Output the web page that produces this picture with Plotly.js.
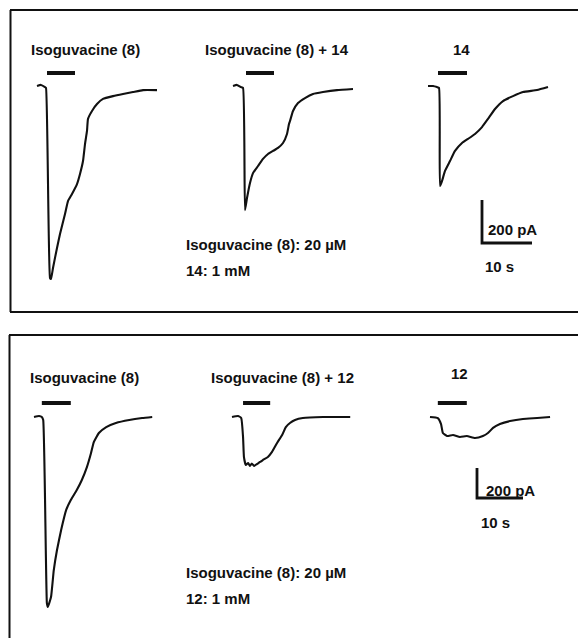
<!DOCTYPE html>
<html>
<head>
<meta charset="utf-8">
<script src="https://cdn.plot.ly/plotly-3.0.1.min.js"></script>
<style>html,body{margin:0;padding:0;background:#fff;}#chart{width:578px;height:638px;}</style>
</head>
<body>
<div id="chart"></div>
<script>
// ---------- DATA (time in s from trace start, current in pA relative to baseline) ----------
// Top panel: Isoguvacine (8) 20 uM, 14 1 mM
const topIso_t   = [0, 0.8, 1.6, 1.8, 2.6, 2.8, 3.2, 4.0, 4.6, 5.6, 6.2, 7.0, 8.0, 8.6, 9.2, 9.6, 10.0, 10.2, 11.0, 12.0, 13.2, 15.2, 17.2, 19.2, 21.2, 24.0];
const topIso_pA  = [0, 5, -5, -9, -893, -897, -846, -753, -688, -595, -535, -502, -456, -409, -349, -270, -209, -153, -116, -84, -60, -47, -37, -28, -19, -19];
const topMix_t   = [0, 0.8, 1.6, 2.0, 2.4, 2.8, 3.4, 4.0, 5.0, 6.0, 7.0, 8.0, 9.0, 10.0, 10.8, 11.2, 11.4, 12.0, 13.0, 14.4, 16.0, 18.0, 20.8, 24.0];
const topMix_pA  = [0, 5, -5, -9, -577, -521, -451, -405, -372, -339, -316, -302, -288, -265, -223, -177, -163, -116, -79, -56, -37, -28, -19, -14];
const top14_t    = [0, 1.0, 1.8, 2.2, 2.4, 2.8, 3.4, 4.4, 5.4, 6.8, 8.0, 9.4, 10.8, 12.0, 13.4, 15.0, 17.0, 19.0, 21.8, 24.0];
const top14_pA   = [0, 0, -5, -9, -465, -442, -395, -349, -302, -265, -246, -223, -191, -153, -107, -70, -47, -28, -19, -5];
const topApp_start = [2.0, 2.6, 2.0];   // drug application bars (s)
const topApp_end   = [7.6, 8.2, 7.8];

// Bottom panel: Isoguvacine (8) 20 uM, 12 1 mM
const botIso_t   = [0, 1.1, 1.7, 2.0, 2.8, 3.0, 3.7, 4.3, 5.0, 5.9, 7.0, 8.0, 9.3, 10.4, 11.5, 12.4, 13.0, 14.1, 15.7, 17.8, 20.7, 23.5, 25.7];
const botIso_pA  = [0, 7, 0, -20, -1241, -1267, -1201, -1021, -887, -754, -620, -554, -487, -420, -334, -240, -167, -107, -67, -40, -20, -7, 0];
const botMix_t   = [0, 1.3, 2.0, 2.4, 2.6, 3.0, 3.5, 3.9, 4.3, 4.8, 5.4, 6.1, 6.7, 7.8, 8.7, 9.8, 10.9, 11.7, 12.6, 13.7, 15.4, 19.8, 25.7];
const botMix_pA  = [0, 7, -7, -133, -267, -320, -307, -327, -310, -327, -314, -300, -287, -267, -233, -173, -120, -67, -40, -20, -7, 0, 0];
const bot12_t    = [0, 1.7, 2.4, 2.8, 3.7, 5.0, 6.5, 8.0, 9.8, 11.5, 12.6, 13.7, 15.2, 17.4, 20.2, 23.3, 26.1];
const bot12_pA   = [0, -7, -47, -107, -127, -120, -133, -127, -140, -127, -107, -73, -47, -27, -13, -7, 0];
const botApp_start = [1.7, 2.4, 1.7];
const botApp_end   = [8.0, 8.3, 8.0];

const scaleBar_pA = 200;
const scaleBar_s  = 10;

const topLabels = ["Isoguvacine (8)", "Isoguvacine (8) + 14", "14"];
const botLabels = ["Isoguvacine (8)", "Isoguvacine (8) + 12", "12"];
const topNotes  = ["Isoguvacine (8): 20 µM", "14: 1 mM"];
const botNotes  = ["Isoguvacine (8): 20 µM", "12: 1 mM"];
const scaleText = ["200 pA", "10 s"];

// ---------- LAYOUT CONSTANTS ----------
const W = 578, H = 638;
const INK = '#111';
const TOP = {pxPerS: 5.0, pAPerPx: 4.65, basePx: 86, starts: [37, 233, 428], appPx: 13, bar: [482, 243]};
const BOT = {pxPerS: 4.6, pAPerPx: 6.67, basePx: 417, starts: [34, 232, 430], appPx: 14, bar: [477, 498]};

function yRange(p) { return [-(H - p.basePx) * p.pAPerPx, p.basePx * p.pAPerPx]; }
function xRange(p) { return [0, W / p.pxPerS]; }

const traces = [];
function addPanel(p, xa, ya, sets, appS, appE) {
  sets.forEach((s, i) => {
    const off = p.starts[i] / p.pxPerS;
    traces.push({x: s[0].map(t => t + off), y: s[1], xaxis: xa, yaxis: ya, mode: 'lines',
      line: {color: INK, width: 2.1, shape: 'spline', smoothing: 0.4}, hoverinfo: 'skip', showlegend: false});
    const yb = p.appPx * p.pAPerPx;
    traces.push({x: [appS[i] + off, appE[i] + off], y: [yb, yb], xaxis: xa, yaxis: ya, mode: 'lines',
      line: {color: INK, width: 4}, hoverinfo: 'skip', showlegend: false});
  });
  const cx = p.bar[0] / p.pxPerS, cy = -(p.bar[1] - p.basePx) * p.pAPerPx;
  traces.push({x: [cx, cx, cx + scaleBar_s], y: [cy + scaleBar_pA, cy, cy], xaxis: xa, yaxis: ya, mode: 'lines',
    line: {color: INK, width: 2.8}, hoverinfo: 'skip', showlegend: false});
}
addPanel(TOP, 'x', 'y', [[topIso_t, topIso_pA], [topMix_t, topMix_pA], [top14_t, top14_pA]], topApp_start, topApp_end);
addPanel(BOT, 'x2', 'y2', [[botIso_t, botIso_pA], [botMix_t, botMix_pA], [bot12_t, bot12_pA]], botApp_start, botApp_end);

const px = v => v / W, py = v => 1 - v / H;
const FONT = {family: 'Liberation Sans, Arial, sans-serif', size: 15, color: INK, weight: 'bold'};
function ann(text, x, y, extra) {
  return Object.assign({text: text, x: px(x), y: py(y), xref: 'paper', yref: 'paper', xanchor: 'left', yanchor: 'middle',
    showarrow: false, font: FONT}, extra || {});
}
const annotations = [
  ann(topLabels[0], 29, 50), ann(topLabels[1], 203, 50), ann(topLabels[2], 451, 50),
  ann(topNotes[0], 184, 244), ann(topNotes[1], 184, 270),
  ann(scaleText[0], 486, 229), ann(scaleText[1], 483, 266),
  ann(botLabels[0], 28, 377), ann(botLabels[1], 209, 377), ann(botLabels[2], 449, 374),
  ann(botNotes[0], 184, 572), ann(botNotes[1], 184, 598),
  ann(scaleText[0], 484, 490), ann(scaleText[1], 479, 522)
];

function hline(x0, x1, y) { return {type: 'line', xref: 'paper', yref: 'paper', x0: px(x0), x1: px(x1), y0: py(y), y1: py(y), line: {color: INK, width: 2}}; }
function vline(x, y0, y1) { return {type: 'line', xref: 'paper', yref: 'paper', x0: px(x), x1: px(x), y0: py(y0), y1: py(y1), line: {color: INK, width: 2}}; }
const shapes = [
  hline(10, 580, 10), hline(10, 580, 312), vline(10.5, 10, 312),
  hline(9, 580, 335), vline(9.5, 335, 640)
];

const hidden = {visible: false, fixedrange: true};
const layout = {
  width: W, height: H, margin: {l: 0, r: 0, t: 0, b: 0},
  paper_bgcolor: '#fff', plot_bgcolor: '#fff', showlegend: false,
  xaxis: Object.assign({range: xRange(TOP), domain: [0, 1]}, hidden),
  yaxis: Object.assign({range: yRange(TOP), domain: [0, 1]}, hidden),
  xaxis2: Object.assign({range: xRange(BOT), overlaying: 'x'}, hidden),
  yaxis2: Object.assign({range: yRange(BOT), overlaying: 'y'}, hidden),
  annotations: annotations, shapes: shapes
};
Plotly.newPlot('chart', traces, layout, {staticPlot: true, displayModeBar: false});
</script>
</body>
</html>
